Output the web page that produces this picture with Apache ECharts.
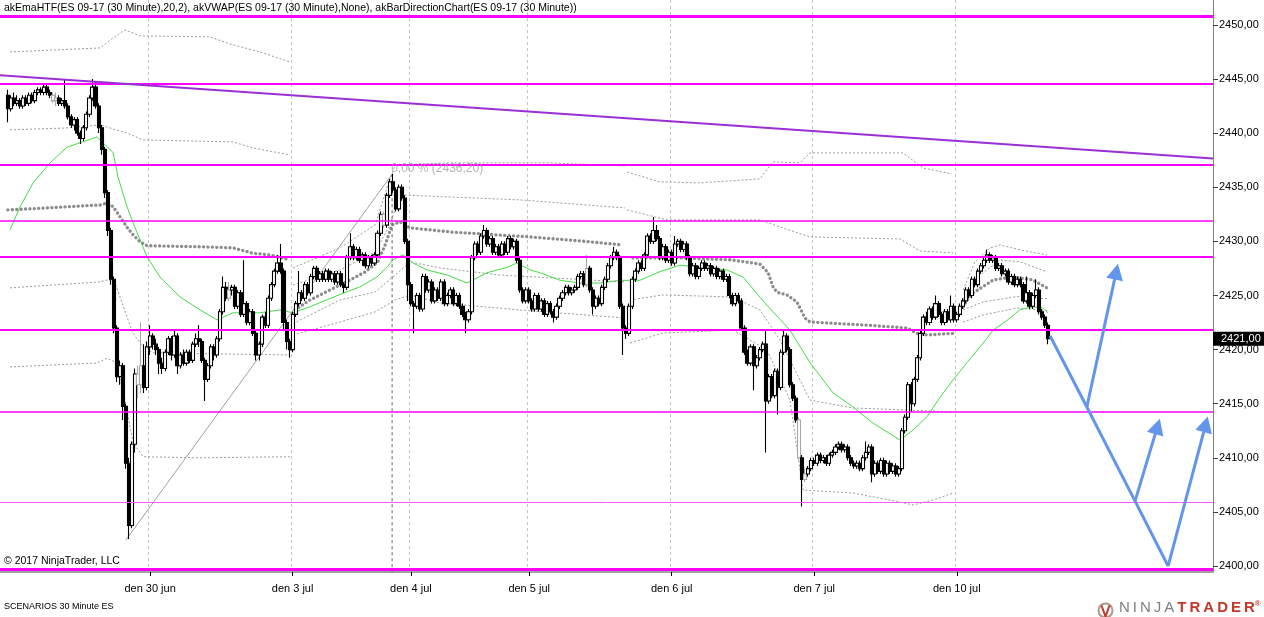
<!DOCTYPE html>
<html><head><meta charset="utf-8">
<script src="https://cdn.jsdelivr.net/npm/echarts@6/dist/echarts.min.js"></script>
<style>html,body{margin:0;padding:0;background:#fff}#c{width:1264px;height:617px}</style>
</head><body><div id="c"></div>
<script>
// ---------- data ----------
const dayIdx = [49, 96, 135, 174, 221, 268, 315];
const dayLabels = ['den 30 jun', 'den 3 jul', 'den 4 jul', 'den 5 jul', 'den 6 jul', 'den 7 jul', 'den 10 jul'];
const yTicks = [2400, 2405, 2410, 2415, 2420, 2425, 2430, 2435, 2440, 2445, 2450];
const yMin = 2399.45, yMax = 2452.3;
const slotCount = 400;
const firstBar = 2;
// [open, close, low, high]
const ohlc = [
[2443.5,2442.25,2441.0,2444.0],[2442.25,2443.25,2442.0,2443.5],[2443.25,2442.75,2442.5,2443.75],[2442.75,2443.0,2442.5,2443.5],
[2443.0,2442.5,2442.25,2443.25],[2442.5,2443.25,2442.25,2443.5],[2443.25,2442.75,2442.5,2443.5],[2442.75,2443.5,2442.5,2443.75],
[2443.5,2443.0,2442.75,2443.75],[2443.0,2443.75,2442.75,2444.0],[2443.75,2444.0,2443.5,2444.25],[2444.0,2443.75,2443.5,2444.25],
[2443.75,2444.25,2443.5,2444.5],[2444.25,2443.75,2443.5,2444.5],[2443.75,2443.5,2443.25,2444.0],[2443.5,2443.0,2442.75,2443.75],
[2443.0,2443.25,2442.5,2443.75],[2443.25,2442.75,2442.5,2443.5],[2442.75,2443.0,2442.5,2443.25],[2443.0,2442.5,2442.25,2445.0],
[2442.5,2441.5,2441.25,2442.75],[2441.5,2440.75,2440.5,2441.75],[2440.75,2441.25,2440.25,2441.5],[2441.25,2440.0,2439.75,2441.5],
[2440.0,2439.5,2439.0,2440.25],[2439.5,2440.5,2439.25,2440.75],[2440.5,2441.75,2440.25,2442.0],[2441.75,2443.25,2441.5,2443.5],
[2443.25,2444.25,2443.0,2445.0],[2444.25,2442.5,2442.25,2444.75],[2442.5,2440.5,2440.0,2442.75],[2440.5,2438.5,2438.0,2440.75],
[2438.5,2434.5,2434.0,2438.75],[2434.5,2431.0,2430.5,2434.75],[2431.0,2426.5,2426.0,2431.25],[2426.5,2422.0,2421.5,2426.75],
[2422.0,2417.5,2417.0,2422.25],[2417.5,2418.5,2416.75,2419.0],[2418.5,2414.75,2413.5,2418.75],[2414.75,2409.5,2409.0,2415.0],
[2409.5,2403.75,2402.5,2410.0],[2403.75,2411.25,2403.5,2411.5],[2411.25,2417.75,2410.5,2418.25],[2417.75,2416.75,2415.5,2418.5],
[2416.75,2418.5,2416.0,2422.5],[2418.5,2416.5,2416.0,2420.5],[2416.5,2420.25,2416.25,2420.75],[2420.25,2421.25,2419.5,2422.25],
[2421.25,2420.5,2420.0,2421.5],[2420.5,2420.0,2419.5,2421.0],[2420.0,2418.75,2417.75,2420.25],[2418.75,2418.25,2417.75,2419.25],
[2418.25,2419.75,2418.0,2420.0],[2419.75,2421.0,2419.5,2421.25],[2421.0,2419.5,2419.0,2421.25],[2419.5,2421.25,2419.25,2421.75],
[2421.25,2418.5,2417.75,2421.5],[2418.5,2419.5,2418.25,2419.75],[2419.5,2418.75,2418.5,2420.0],[2418.75,2419.75,2418.5,2420.0],
[2419.75,2419.0,2418.75,2420.0],[2419.0,2420.5,2418.75,2420.75],[2420.5,2421.0,2420.25,2421.5],[2421.0,2420.75,2420.25,2422.25],
[2420.75,2419.0,2418.75,2421.0],[2419.0,2417.25,2415.25,2419.25],[2417.25,2418.5,2417.0,2418.75],[2418.5,2420.25,2418.25,2420.5],
[2420.25,2419.5,2419.0,2420.5],[2419.5,2421.0,2419.25,2421.25],[2421.0,2423.5,2420.75,2423.75],[2423.5,2425.75,2423.25,2426.75],
[2425.75,2424.75,2424.5,2426.25],[2424.75,2425.5,2424.5,2426.25],[2425.5,2425.75,2425.0,2426.0],[2425.75,2424.0,2423.75,2426.0],
[2424.0,2425.25,2423.75,2425.5],[2425.25,2423.25,2423.0,2425.5],[2423.25,2424.25,2423.0,2428.25],[2424.25,2422.5,2422.25,2424.5],
[2422.5,2423.5,2422.25,2423.75],[2423.5,2421.5,2421.25,2423.75],[2421.5,2419.5,2419.0,2421.75],[2419.5,2420.5,2419.0,2420.75],
[2420.5,2423.0,2420.25,2423.25],[2423.0,2422.25,2422.0,2423.5],[2422.25,2424.75,2422.0,2425.0],[2424.75,2426.0,2424.5,2426.25],
[2426.0,2427.25,2425.75,2427.5],[2427.25,2428.0,2427.0,2428.75],[2428.0,2427.25,2427.0,2429.75],[2427.25,2422.5,2421.75,2427.5],
[2422.5,2420.75,2420.0,2422.75],[2420.75,2420.0,2419.25,2421.0],[2420.0,2423.25,2419.75,2423.5],[2423.25,2424.25,2423.0,2424.5],
[2424.25,2425.25,2424.0,2427.25],[2425.25,2424.75,2424.5,2425.5],[2424.75,2426.0,2424.5,2426.25],[2426.0,2425.25,2425.0,2426.25],
[2425.25,2426.75,2425.0,2427.0],[2426.75,2427.5,2426.5,2427.75],[2427.5,2426.5,2426.25,2427.75],[2426.5,2427.0,2426.25,2427.25],
[2427.0,2426.5,2426.25,2427.25],[2426.5,2427.25,2426.25,2427.5],[2427.25,2426.5,2426.25,2427.5],[2426.5,2427.0,2426.25,2427.25],
[2427.0,2426.25,2426.0,2427.25],[2426.25,2427.0,2426.0,2427.25],[2427.0,2426.0,2425.75,2427.25],[2426.0,2425.75,2425.25,2426.25],
[2425.75,2428.5,2425.5,2428.75],[2428.5,2429.5,2428.25,2430.75],[2429.5,2428.5,2428.25,2429.75],[2428.5,2429.25,2428.25,2429.5],
[2429.25,2428.25,2428.0,2429.5],[2428.25,2428.75,2427.75,2429.0],[2428.75,2427.75,2427.5,2429.0],[2427.75,2428.5,2427.5,2428.75],
[2428.5,2428.0,2427.75,2428.75],[2428.0,2428.75,2427.75,2429.0],[2428.75,2430.75,2428.5,2431.0],[2430.75,2432.5,2430.5,2432.75],
[2432.5,2431.5,2431.25,2432.75],[2431.5,2434.25,2431.25,2434.5],[2434.25,2435.5,2434.0,2435.75],[2435.5,2434.75,2434.5,2436.25],
[2434.75,2433.0,2432.75,2435.0],[2433.0,2435.0,2432.75,2435.25],[2435.0,2434.0,2433.75,2435.25],[2434.0,2430.0,2429.75,2434.25],
[2430.0,2426.0,2424.5,2430.25],[2426.0,2424.25,2424.0,2426.25],[2424.25,2424.0,2421.5,2424.5],[2424.0,2425.0,2423.75,2425.25],
[2425.0,2423.75,2423.5,2425.25],[2423.75,2426.75,2423.5,2427.0],[2426.75,2425.5,2425.25,2427.0],[2425.5,2426.25,2425.25,2426.5],
[2426.25,2424.5,2424.25,2426.5],[2424.5,2425.5,2424.25,2425.75],[2425.5,2424.75,2424.5,2425.75],[2424.75,2426.25,2424.5,2426.5],
[2426.25,2424.25,2424.0,2426.5],[2424.25,2425.0,2424.0,2425.25],[2425.0,2425.5,2424.75,2425.75],[2425.5,2424.25,2424.0,2425.75],
[2424.25,2425.0,2424.0,2425.25],[2425.0,2424.0,2423.75,2425.25],[2424.0,2423.25,2423.0,2424.25],[2423.25,2422.75,2421.5,2423.5],
[2422.75,2423.5,2422.5,2423.75],[2423.5,2428.5,2423.25,2428.75],[2428.5,2429.75,2428.25,2430.0],[2429.75,2429.0,2428.75,2430.0],
[2429.0,2430.5,2428.75,2430.75],[2430.5,2431.0,2430.25,2431.5],[2431.0,2429.75,2429.5,2431.25],[2429.75,2430.25,2429.5,2430.5],
[2430.25,2429.0,2428.75,2430.5],[2429.0,2429.5,2428.75,2429.75],[2429.5,2428.75,2428.5,2429.75],[2428.75,2429.75,2428.5,2430.0],
[2429.75,2429.0,2428.75,2430.0],[2429.0,2430.25,2428.75,2430.5],[2430.25,2429.5,2429.25,2430.5],[2429.5,2430.0,2429.25,2430.25],
[2430.0,2428.25,2428.0,2430.25],[2428.25,2425.5,2425.25,2428.5],[2425.5,2424.5,2424.25,2425.75],[2424.5,2425.5,2424.25,2425.75],
[2425.5,2424.5,2424.25,2425.75],[2424.5,2423.75,2423.5,2424.75],[2423.75,2425.0,2423.5,2425.25],[2425.0,2423.75,2423.5,2425.25],
[2423.75,2424.5,2423.5,2424.75],[2424.5,2423.25,2423.0,2424.75],[2423.25,2424.25,2423.0,2424.5],[2424.25,2423.5,2423.25,2424.5],
[2423.5,2423.0,2422.5,2423.75],[2423.0,2424.0,2422.75,2424.25],[2424.0,2424.75,2423.75,2425.0],[2424.75,2425.25,2424.5,2425.5],
[2425.25,2425.75,2425.0,2426.0],[2425.75,2425.25,2425.0,2426.0],[2425.25,2425.5,2425.0,2425.75],[2425.5,2425.75,2425.25,2426.0],
[2425.75,2426.75,2425.5,2427.0],[2426.75,2427.0,2426.5,2427.25],[2427.0,2426.0,2425.75,2427.25],[2426.0,2427.5,2425.75,2428.75],
[2427.5,2425.5,2425.25,2427.75],[2425.5,2424.0,2423.25,2425.75],[2424.0,2424.75,2423.75,2425.0],[2424.75,2424.25,2424.0,2425.0],
[2424.25,2425.75,2424.0,2426.0],[2425.75,2426.5,2425.5,2426.75],[2426.5,2427.75,2426.25,2428.0],[2427.75,2428.5,2427.5,2428.75],
[2428.5,2429.0,2428.25,2429.5],[2429.0,2428.5,2428.25,2429.25],[2428.5,2424.0,2423.75,2428.75],[2424.0,2422.0,2419.5,2424.25],
[2422.0,2421.5,2421.0,2422.25],[2421.5,2424.0,2421.25,2424.25],[2424.0,2426.5,2423.75,2426.75],[2426.5,2427.25,2426.25,2427.5],
[2427.25,2428.0,2427.0,2428.25],[2428.0,2427.5,2427.25,2428.25],[2427.5,2428.75,2427.25,2429.0],[2428.75,2430.5,2428.5,2430.75],
[2430.5,2430.0,2429.75,2430.75],[2430.0,2431.0,2429.75,2432.25],[2431.0,2430.25,2430.0,2431.5],[2430.25,2428.5,2428.25,2430.5],
[2428.5,2429.5,2428.25,2429.75],[2429.5,2428.25,2428.0,2429.75],[2428.25,2429.0,2428.0,2429.25],[2429.0,2428.0,2427.75,2429.25],
[2428.0,2429.75,2427.75,2430.5],[2429.75,2430.0,2429.5,2430.25],[2430.0,2429.25,2429.0,2430.25],[2429.25,2429.75,2429.0,2430.0],
[2429.75,2428.5,2428.25,2430.0],[2428.5,2427.0,2426.75,2428.75],[2427.0,2427.75,2426.75,2428.0],[2427.75,2426.75,2426.5,2428.0],
[2426.75,2427.5,2426.5,2427.75],[2427.5,2428.0,2427.25,2428.25],[2428.0,2427.5,2427.25,2428.25],[2427.5,2427.75,2427.25,2428.0],
[2427.75,2427.0,2426.75,2428.0],[2427.0,2427.5,2426.75,2427.75],[2427.5,2426.75,2426.5,2427.75],[2426.75,2427.25,2426.5,2427.5],
[2427.25,2426.5,2426.25,2427.5],[2426.5,2426.75,2426.25,2427.0],[2426.75,2425.0,2424.75,2427.0],[2425.0,2424.25,2424.0,2425.25],
[2424.25,2425.0,2424.0,2425.25],[2425.0,2424.5,2424.25,2425.25],[2424.5,2422.0,2421.75,2424.75],[2422.0,2419.75,2419.5,2422.25],
[2419.75,2418.75,2418.5,2420.0],[2418.75,2420.25,2418.5,2420.5],[2420.25,2418.5,2416.25,2420.5],[2418.5,2419.25,2418.25,2419.5],
[2419.25,2420.0,2419.0,2420.25],[2420.0,2420.5,2419.75,2420.75],[2420.5,2415.25,2410.5,2421.75],[2415.25,2417.5,2415.0,2417.75],
[2417.5,2415.75,2415.5,2417.75],[2415.75,2418.0,2415.5,2418.25],[2418.0,2416.5,2414.0,2418.25],[2416.5,2419.75,2416.25,2420.0],
[2419.75,2421.25,2419.5,2421.75],[2421.25,2420.0,2419.75,2421.5],[2420.0,2416.75,2416.5,2420.25],[2416.75,2415.5,2415.25,2417.0],
[2415.5,2413.5,2413.25,2415.75],[2413.5,2410.0,2409.75,2413.75],[2410.0,2408.0,2405.5,2410.25],[2408.0,2408.5,2407.75,2409.0],
[2408.5,2409.0,2408.25,2409.25],[2409.0,2409.75,2408.75,2410.0],[2409.75,2409.5,2409.25,2410.0],[2409.5,2410.25,2409.25,2410.5],
[2410.25,2409.75,2409.5,2410.5],[2409.75,2410.0,2409.5,2410.25],[2410.0,2409.5,2409.25,2410.25],[2409.5,2410.25,2409.25,2410.5],
[2410.25,2410.5,2410.0,2410.75],[2410.5,2411.0,2410.25,2411.25],[2411.0,2411.25,2410.75,2411.5],[2411.25,2410.75,2410.5,2411.5],
[2410.75,2411.0,2410.5,2411.25],[2411.0,2410.0,2409.75,2411.25],[2410.0,2409.5,2409.25,2410.25],[2409.5,2409.25,2409.0,2409.75],
[2409.25,2409.5,2409.0,2409.75],[2409.5,2409.0,2408.75,2409.75],[2409.0,2410.0,2408.75,2410.25],[2410.0,2410.5,2409.75,2411.5],
[2410.5,2411.0,2410.25,2411.25],[2411.0,2408.5,2407.75,2411.25],[2408.5,2409.5,2408.25,2409.75],[2409.5,2408.75,2408.5,2409.75],
[2408.75,2409.75,2408.5,2410.0],[2409.75,2408.5,2408.25,2410.0],[2408.5,2409.5,2408.25,2409.75],[2409.5,2408.75,2408.5,2409.75],
[2408.75,2409.25,2408.5,2409.5],[2409.25,2408.5,2408.25,2409.5],[2408.5,2409.0,2408.25,2409.25],[2409.0,2412.5,2408.75,2412.75],
[2412.5,2413.75,2412.25,2414.0],[2413.75,2416.75,2413.5,2417.0],[2416.75,2415.0,2414.25,2417.0],[2415.0,2417.25,2414.75,2417.5],
[2417.25,2419.25,2417.0,2419.5],[2419.25,2421.5,2419.0,2421.75],[2421.5,2423.0,2421.25,2423.25],[2423.0,2422.5,2422.25,2423.5],
[2422.5,2423.75,2422.25,2424.0],[2423.75,2423.0,2422.75,2424.0],[2423.0,2424.25,2422.75,2425.0],[2424.25,2423.25,2423.0,2424.5],
[2423.25,2422.5,2422.25,2423.5],[2422.5,2423.5,2422.25,2423.75],[2423.5,2422.75,2422.5,2423.75],[2422.75,2424.0,2422.5,2425.0],
[2424.0,2422.75,2422.5,2424.25],[2422.75,2423.25,2422.5,2423.5],[2423.25,2424.0,2423.0,2424.25],[2424.0,2424.5,2423.75,2424.75],
[2424.5,2425.5,2424.25,2425.75],[2425.5,2425.0,2424.75,2425.75],[2425.0,2426.5,2424.75,2426.75],[2426.5,2426.0,2425.75,2426.75],
[2426.0,2427.25,2425.75,2427.5],[2427.25,2427.75,2427.0,2428.0],[2427.75,2428.25,2427.5,2428.5],[2428.25,2428.75,2428.0,2429.25],
[2428.75,2428.25,2428.0,2429.0],[2428.25,2428.5,2428.0,2428.75],[2428.5,2427.5,2427.25,2428.75],[2427.5,2427.75,2427.25,2428.0],
[2427.75,2427.0,2426.75,2428.0],[2427.0,2427.25,2426.75,2427.5],[2427.25,2426.25,2426.0,2427.5],[2426.25,2426.75,2426.0,2427.0],
[2426.75,2426.0,2425.75,2427.0],[2426.0,2426.5,2425.75,2426.75],[2426.5,2426.0,2425.75,2426.75],[2426.0,2424.5,2424.25,2426.25],
[2424.5,2425.25,2424.25,2426.75],[2425.25,2424.0,2423.75,2425.5],[2424.0,2425.0,2423.75,2425.25],[2425.0,2425.5,2424.75,2426.5],
[2425.5,2423.5,2423.25,2425.75],[2423.5,2423.0,2422.75,2423.75],[2423.0,2422.25,2422.0,2423.25],[2422.25,2421.0,2420.5,2422.5]
];
const grayBars = [17, 18, 45, 46, 75, 126, 193, 263, 265];

// indicator lines: [bar index, price]
const ema = [[2.8,2431.05],[6.1,2433.18],[10.4,2435.4],[16,2437.25],[21.6,2438.7],[26.9,2439.2],[31.5,2439.65],[33.1,2439.2],
[36.8,2438.2],[38.4,2435.95],[41.4,2433.2],[43.4,2431.7],[48,2428.56],[52.3,2426.7],[58.9,2424.86],[65.5,2423.66],[71.1,2422.74],
[76.3,2423.4],[85.2,2423.4],[91.8,2423.66],[96.1,2423.4],[101.7,2423.95],[107.3,2424.6],[112.6,2425.2],[118.2,2425.8],[123.8,2426.7],
[127.1,2427.6],[129.1,2428.3],[132.4,2428.75],[135.7,2428.0],[140.3,2427.36],[146.9,2426.9],[153.5,2426.15],[160.1,2427.1],
[166.7,2427.6],[170,2428.0],[174.3,2427.36],[177.6,2427.1],[184.2,2426.4],[190.8,2426.15],[197.4,2426.15],[204,2426.4],[210.5,2426.4],
[217.1,2427.2],[223.7,2427.8],[230.3,2427.6],[239.2,2427.36],[244.5,2426.7],[252.4,2424.1],[260,2421.8],[266.6,2418.8],[274.2,2416.0],
[280.8,2414.7],[287.4,2413.2],[296.3,2411.65],[300.6,2412.57],[305.2,2413.8],[309.5,2415.6],[313.8,2417.2],[318.4,2418.8],
[323.7,2420.6],[327,2421.8],[331.6,2422.7],[335.9,2423.7],[340.1,2423.95],[343.4,2423.85],[345.1,2423.4]];

const vwapS1 = [[2.1,2432.9],[32.5,2433.36],[34.8,2433.55],[36.8,2433.2],[39.1,2432.26],[41.4,2431.3],[43.4,2430.6],[45.7,2429.95],
[48,2429.6],[65.5,2429.5],[76.3,2429.4],[82.9,2428.9],[88.5,2428.75],[95.1,2428.3]];
const vwapS2 = [[96.8,2423.66],[101.7,2424.58],[108.3,2425.51],[114.9,2426.43],[119.9,2427.17],[124.1,2428.1],[126.5,2429.67],
[128.8,2431.52],[131.4,2431.8],[134.7,2431.24],[147.9,2430.87],[174.3,2430.41],[190.8,2430.04],[204.9,2429.67]];
const vwapS3 = [[208.2,2428.47],[223.7,2428.47],[240.2,2428.3],[250.1,2427.9],[252.8,2427.1],[254.4,2425.8],[255.7,2425.3],[259,2425.05],
[262.3,2424.4],[265,2422.9],[266.6,2422.55],[283.1,2422.3],[298.6,2422.0],[301.9,2421.5],[305.2,2421.35],[313.8,2421.5]];
const vwapS4 = [[317.1,2423.94],[318.4,2424.58],[320.4,2425.23],[327,2426.43],[333.5,2426.71],[340.1,2426.43],[344.8,2425.69]];

const u2S1 = [[2.8,2447.5],[32.5,2447.87],[36.8,2448.8],[40.7,2449.54],[45.7,2448.98],[68.7,2448.9],[75.3,2448.24],[85.2,2447.5],[95.1,2446.58]];
const u1S1 = [[2.8,2440.3],[21.6,2440.48],[32.5,2440.76],[41.4,2440.0],[46.7,2439.37],[76.3,2439.19],[82.9,2438.63],[95.1,2437.99]];
const l1S1 = [[2.8,2425.7],[32.5,2426.25],[34.8,2426.43],[37.4,2426.2],[41.4,2423.0],[43.4,2421.5],[46.7,2420.24],[50,2419.7],[95.1,2419.5]];
const l2S1 = [[2.8,2418.4],[31.5,2418.76],[34.8,2419.2],[37.4,2418.85],[40.1,2416.27],[43.4,2411.37],[46.7,2410.1],[65.5,2410.0],[95.1,2410.1]];
const u2S2 = [[96.1,2427.54],[111.6,2429.39],[123.2,2431.52],[127.4,2435.21],[129.8,2437.06],[147.9,2437.25],[180.9,2437.25],[205.6,2436.97]];
const u1S2 = [[96.1,2425.97],[111.6,2427.36],[123.2,2429.02],[128.1,2431.52],[131.4,2434.29],[147.9,2434.1],[171,2433.83],[205.6,2433.09]];
const l1S2 = [[96.1,2422.4],[111.6,2424.58],[123.2,2425.32],[129.8,2426.89],[134.7,2428.1],[144.6,2427.54],[164.4,2426.89],[205.6,2426.25]];
const l2S2 = [[96.1,2421.35],[111.6,2422.55],[123.2,2423.48],[129.8,2424.58],[134.7,2425.05],[144.6,2424.31],[171,2423.66],[205.6,2422.92]];
const u2S3 = [[206.3,2436.41],[217.1,2435.49],[230.3,2435.4],[250.1,2435.77],[254.4,2437.34],[263.3,2437.25],[266.6,2438.17],[297.3,2438.17],[303.9,2436.78],[313.4,2436.23]];
const u1S3 = [[206.3,2432.9],[219.5,2431.98],[250.1,2431.98],[256.7,2431.33],[266.6,2430.41],[296.3,2430.22],[302.9,2429.11],[313.8,2428.93]];
const l1S3 = [[207.3,2424.58],[218.1,2425.05],[241.2,2424.86],[250.1,2423.66],[256.7,2420.89],[263.3,2417.19],[266.6,2415.34],[280.8,2414.6],[298.6,2414.42],[313.8,2414.23]];
const l2S3 = [[207.3,2420.61],[218.1,2421.53],[241.2,2421.81],[252.4,2419.96],[260,2415.34],[264.3,2407.02],[280.8,2406.75],[296.3,2405.91],[300.6,2405.64],[307.2,2406.1],[313.8,2406.75]];
const u2S4 = [[317.1,2425.51],[321,2428.1],[326,2429.39],[329.3,2429.67],[335.9,2429.21],[344.8,2428.74]];
const u1S4 = [[317.1,2424.58],[322.7,2426.89],[329.3,2428.28],[335.9,2428.1],[344.8,2427.17]];
const l1S4 = [[317.1,2423.66],[323.7,2424.4],[334.9,2424.9],[344.8,2424.7]];
const l2S4 = [[317.1,2422.55],[323.7,2423.2],[334.9,2423.84],[344.8,2423.6]];

const levels = [2450.8, 2444.55, 2437.05, 2431.9, 2428.55, 2421.8, 2414.3, 2405.9, 2399.7];
const levelWidths = [3, 2, 2, 1.5, 2, 2, 1.5, 1, 3];
const trendLine = [[-0.5, 2445.35], [399.5, 2437.65]];
const fibLow = [41, 2402.4];
const fibHigh = [128.8, 2436.2];
const scenarioPath = [[345.8, 2421.25], [357.9, 2414.7], [373.8, 2406.0], [384.7, 2400.0]];
const scenarioArrows = [
  [[357.9, 2414.7], [367.6, 2427.2]],
  [[373.8, 2406.0], [381.2, 2412.9]],
  [[384.7, 2400.0], [397.1, 2413.1]]
];

// ---------- chart ----------
const cats = Array.from({length: slotCount}, (_, i) => { const k = dayIdx.indexOf(i); return k >= 0 ? dayLabels[k] : ''; });
const isDay = (i) => dayIdx.indexOf(i) >= 0;
const fmt = v => v.toFixed(2).replace('.', ',');
const spaced = s => s.split('').join('\u2009');
const grayStyle = {color: '#ffffff', color0: '#a8a8a8', borderColor: '#a8a8a8', borderColor0: '#a8a8a8'};
const candleData = cats.map((_, i) => {
  const r = ohlc[i - firstBar];
  if (!r) return '-';
  return grayBars.indexOf(i) >= 0 ? {value: r, itemStyle: grayStyle} : r;
});
const lastClose = ohlc[ohlc.length - 1][1];
const FONT = "'Liberation Sans', Arial, sans-serif";

function band(data) {
  return {type: 'line', xAxisIndex: 1, data, symbol: 'none', silent: true, z: 2,
    lineStyle: {color: '#9a9a9a', width: 1, type: [2, 2]}};
}
function dots(data) {
  return {type: 'line', xAxisIndex: 1, data, symbol: 'none', silent: true, z: 3,
    lineStyle: {color: '#8c8c8c', width: 3.3, type: [0.1, 4.3], cap: 'round'}};
}

const series = [
  band(u2S1), band(u1S1), band(l1S1), band(l2S1),
  band(u2S2), band(u1S2), band(l1S2), band(l2S2),
  band(u2S3), band(u1S3), band(l1S3), band(l2S3),
  band(u2S4), band(u1S4), band(l1S4), band(l2S4),
  dots(vwapS1), dots(vwapS2), dots(vwapS3), dots(vwapS4),
  {type: 'line', xAxisIndex: 1, data: ema, symbol: 'none', silent: true, z: 3,
    lineStyle: {color: '#44dd44', width: 1}},
  {type: 'line', xAxisIndex: 1, data: [fibLow, fibHigh], symbol: 'none', silent: true, z: 3,
    lineStyle: {color: '#a0a0a0', width: 1}},
  {type: 'line', xAxisIndex: 1, data: [fibHigh, [fibHigh[0], yMin]], symbol: 'none', silent: true, z: 3,
    lineStyle: {color: '#606060', width: 1, type: [3, 3]}},
  {type: 'scatter', xAxisIndex: 1, data: [fibHigh], symbolSize: 0.1, silent: true, z: 6,
    itemStyle: {color: 'transparent'},
    label: {show: true, position: 'right', distance: 0, offset: [-1, -6],
      formatter: () => '0,00 % (' + fmt(fibHigh[1]) + ')', color: '#a0a0a0', fontSize: 12, fontFamily: FONT}},
  {type: 'candlestick', xAxisIndex: 0, data: candleData, barWidth: 3.6, z: 4, silent: true,
    itemStyle: {color: '#ffffff', color0: '#000000', borderColor: '#000000', borderColor0: '#000000', borderWidth: 1.1},
    markLine: {silent: true, symbol: 'none', animation: false,
      lineStyle: {color: 'transparent', width: 0},
      label: {show: true, position: 'end', distance: 0, formatter: () => fmt(lastClose),
        backgroundColor: '#000', color: '#fff', padding: [2, 6, 1, 8], fontSize: 11, fontFamily: FONT},
      data: [{yAxis: lastClose}]}},
  {type: 'line', xAxisIndex: 1, data: trendLine, symbol: 'none', silent: true, z: 7,
    lineStyle: {color: '#9b2fd6', width: 2},
    markLine: {silent: true, symbol: 'none', animation: false, label: {show: false},
      data: levels.map((v, k) => ({yAxis: v, lineStyle: {color: k === 7 ? '#ff55ff' : '#ff00ff', width: levelWidths[k], type: 'solid'}}))}},
  {type: 'line', xAxisIndex: 1, data: scenarioPath, symbol: 'none', silent: true, z: 8,
    lineStyle: {color: '#6495ed', width: 3},
    markLine: {silent: true, symbol: ['none', 'triangle'], symbolSize: [17, 16], animation: false,
      label: {show: false}, lineStyle: {color: '#6495ed', width: 3, type: 'solid'},
      data: scenarioArrows.map(a => [{coord: a[0]}, {coord: a[1]}])}}
];

const chart = echarts.init(document.getElementById('c'), null, {renderer: 'canvas'});
chart.setOption({
  animation: false,
  backgroundColor: '#ffffff',
  grid: {left: 0, right: 51, top: 0, bottom: 45, containLabel: false},
  xAxis: [
    {type: 'category', data: cats, boundaryGap: true,
      axisLine: {show: true, onZero: false, lineStyle: {color: '#a0a0a0', width: 2}},
      axisTick: {show: true, alignWithLabel: true, interval: (i) => isDay(i), length: 4, lineStyle: {color: '#000'}},
      axisLabel: {show: true, interval: (i) => isDay(i), color: '#000', fontSize: 11, fontFamily: FONT, margin: 11},
      splitLine: {show: true, interval: (i) => isDay(i), lineStyle: {color: '#c4c4c4', width: 1, type: [3, 3]}}},
    {type: 'value', min: -0.5, max: slotCount - 0.5, show: false}
  ],
  yAxis: {type: 'value', position: 'right', min: yMin, max: yMax, scale: true,
    axisLine: {show: true, onZero: false, lineStyle: {color: '#808080', width: 1}},
    axisTick: {show: true, length: 5, customValues: yTicks, lineStyle: {color: '#404040'}},
    axisLabel: {show: true, customValues: yTicks, formatter: (v) => fmt(v), color: '#000', fontSize: 11, fontFamily: FONT, margin: 6},
    splitLine: {show: false}},
  graphic: [
    {type: 'text', left: 4, top: 3, z: 100, style: {text: 'akEmaHTF(ES 09-17 (30 Minute),20,2), akVWAP(ES 09-17 (30 Minute),None), akBarDirectionChart(ES 09-17 (30 Minute))', fill: '#000', font: '10.5px ' + FONT}},
    {type: 'text', left: 4, top: 556, z: 100, style: {text: '© 2017 NinjaTrader, LLC', fill: '#000', font: '10.5px ' + FONT}},
    {type: 'text', left: 4, top: 602, z: 100, style: {text: 'SCENARIOS 30 Minute ES', fill: '#000', font: '9px ' + FONT}},
    {type: 'circle', left: 1096, top: 601, z: 100, shape: {r: 7}, style: {fill: 'none', stroke: '#b09a8a', lineWidth: 2}},
    {type: 'polyline', left: 1099, top: 603, z: 101, shape: {points: [[0, 0], [4, 11], [8, 0]]}, style: {fill: 'none', stroke: '#c0392b', lineWidth: 2}},
    {type: 'text', left: 1119, top: 600, z: 100, style: {
      text: '{a|' + spaced('NINJA') + '\u2009}{b|' + spaced('TRADER') + '}{c|®}',
      rich: {
        a: {fill: '#7f7f7f', font: '15px ' + FONT},
        b: {fill: '#c0392b', font: 'bold 15px ' + FONT},
        c: {fill: '#c0392b', font: 'bold 8px ' + FONT, verticalAlign: 'top'}
      }}}
  ],
  series
});
</script></body></html>
